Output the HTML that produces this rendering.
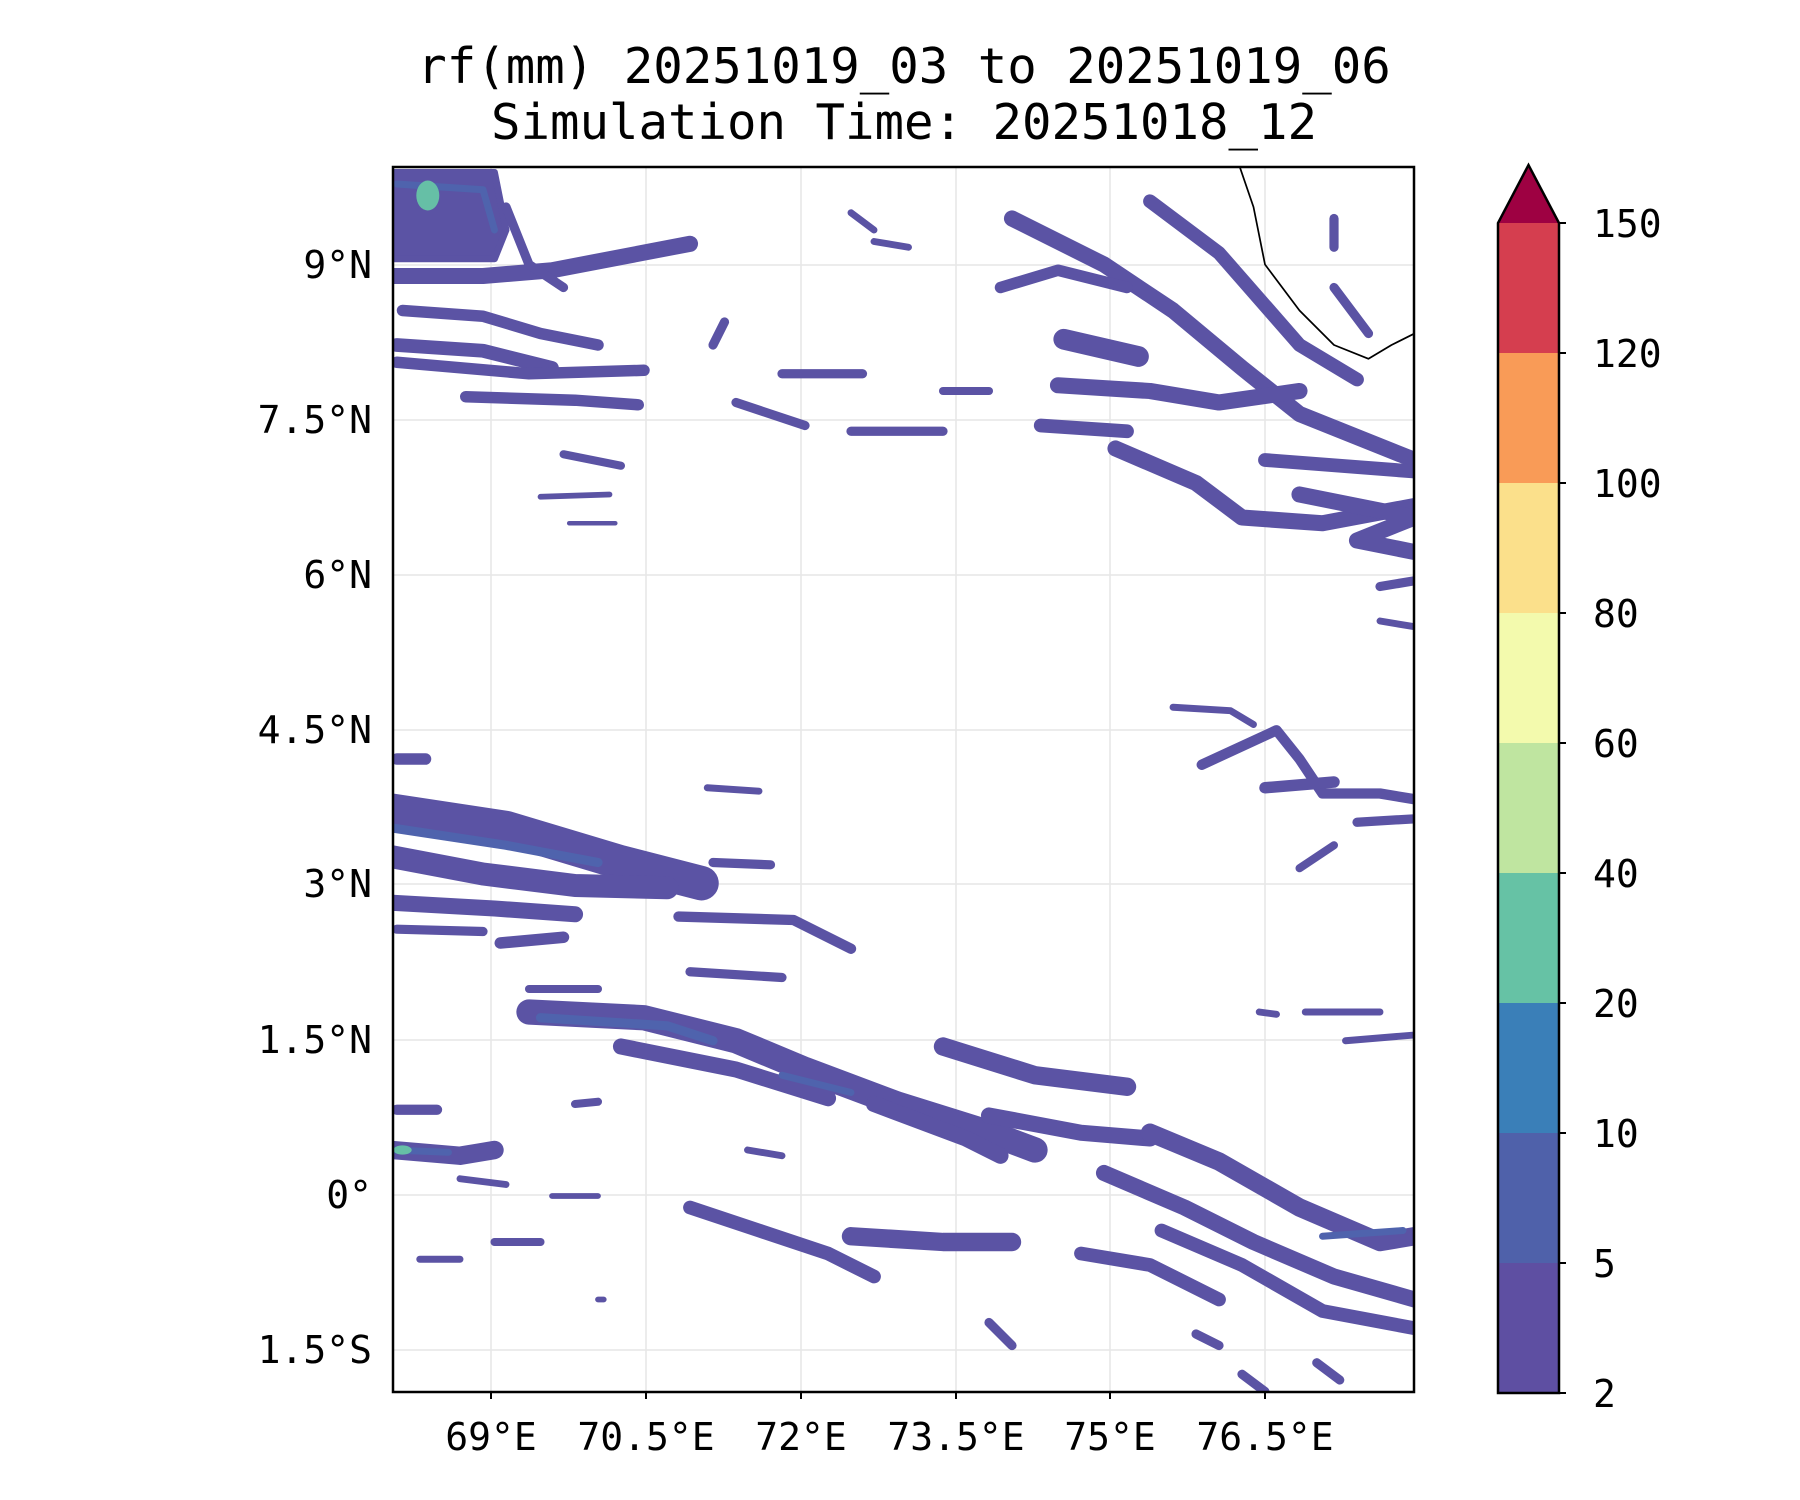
<!DOCTYPE html>
<html><head><meta charset="utf-8"><style>
html,body{margin:0;padding:0;background:#fff;}
svg{display:block;}
text{font-family:"DejaVu Sans Mono","Liberation Mono",monospace;fill:#000;}
</style></head><body>
<svg width="1800" height="1500" viewBox="0 0 1800 1500" xmlns="http://www.w3.org/2000/svg">
<text x="904" y="83" font-size="49" text-anchor="middle">rf(mm) 20251019_03 to 20251019_06</text>
<text x="904" y="139" font-size="49" text-anchor="middle">Simulation Time: 20251018_12</text>
<defs><clipPath id="c"><rect x="393" y="167" width="1021" height="1225"/></clipPath></defs>
<g stroke="#e6e6e6" stroke-width="1.5">
<line x1="491" y1="167" x2="491" y2="1392"/><line x1="646" y1="167" x2="646" y2="1392"/><line x1="801" y1="167" x2="801" y2="1392"/><line x1="956" y1="167" x2="956" y2="1392"/><line x1="1110" y1="167" x2="1110" y2="1392"/><line x1="1265" y1="167" x2="1265" y2="1392"/>
<line x1="393" y1="265" x2="1414" y2="265"/><line x1="393" y1="420" x2="1414" y2="420"/><line x1="393" y1="575" x2="1414" y2="575"/><line x1="393" y1="730" x2="1414" y2="730"/><line x1="393" y1="884" x2="1414" y2="884"/><line x1="393" y1="1040" x2="1414" y2="1040"/><line x1="393" y1="1195" x2="1414" y2="1195"/><line x1="393" y1="1350" x2="1414" y2="1350"/>
</g>
<g clip-path="url(#c)">
<g transform="scale(1.15)" fill="none" stroke-linecap="round" stroke-linejoin="round">
<g stroke="#5b53a4">
<path d="M341,150 L430,150 L440,200 L430,225 L341,225" fill="#5b53a4" stroke-width="6"/>
<polyline stroke-width="14" points="341,240 420,240 480,235 600,212"/>
<polyline stroke-width="10" points="350,270 420,275 470,290 520,300"/>
<polyline stroke-width="12" points="345,300 420,305 480,320"/>
<polyline stroke-width="10" points="345,315 460,325 560,322"/>
<polyline stroke-width="10" points="405,345 500,348 555,352"/>
<polyline stroke-width="8" points="440,180 460,230 490,250"/>
<polyline stroke-width="8" points="620,300 630,280"/>
<polyline stroke-width="7" points="490,395 540,405"/>
<polyline stroke-width="5" points="470,432 530,430"/><polyline stroke-width="4" points="495,455 535,455"/>
<polyline stroke-width="8" points="680,325 750,325"/><polyline stroke-width="8" points="740,375 820,375"/><polyline stroke-width="8" points="640,350 700,370"/>
<polyline stroke-width="7" points="820,340 860,340"/><polyline stroke-width="6" points="740,185 760,200"/><polyline stroke-width="6" points="760,210 790,215"/>
<polyline stroke-width="14" points="880,190 960,230 1020,270 1080,320 1130,360 1230,400"/>
<polyline stroke-width="12" points="1000,175 1060,220 1130,300 1180,330"/>
<polyline stroke-width="10" points="870,250 920,235 980,250"/>
<polyline stroke-width="18" points="925,295 990,310"/>
<polyline stroke-width="14" points="920,335 1000,340 1060,350 1130,340"/>
<polyline stroke-width="12" points="905,370 980,375"/>
<polyline stroke-width="14" points="970,390 1040,420 1080,450 1150,455 1230,440"/>
<polyline stroke-width="12" points="1100,400 1230,410"/>
<polyline stroke-width="14" points="1130,430 1230,450 1180,470 1230,480"/>
<polyline stroke-width="8" points="1160,190 1160,215"/><polyline stroke-width="8" points="1160,250 1190,290"/>
<polyline stroke-width="8" points="1200,510 1230,505"/><polyline stroke-width="6" points="1200,540 1230,545"/>
<polyline stroke-width="6" points="1020,615 1070,618 1090,630"/>
<polyline stroke-width="9" points="1045,665 1110,635 1130,660 1150,690 1200,690 1230,695"/>
<polyline stroke-width="10" points="1100,685 1160,680"/><polyline stroke-width="8" points="1180,715 1230,712"/>
<polyline stroke-width="7" points="1130,755 1160,735"/>
<polyline stroke-width="30" points="341,705 440,720 540,750 610,768"/>
<polyline stroke-width="20" points="341,745 420,760 500,770 580,772"/>
<polyline stroke-width="14" points="341,785 430,790 500,795"/>
<polyline stroke-width="10" points="345,660 370,660"/><polyline stroke-width="8" points="345,808 420,810"/>
<polyline stroke-width="10" points="435,820 490,815"/>
<polyline stroke-width="9" points="590,797 690,800 740,825"/>
<polyline stroke-width="8" points="620,750 670,752"/><polyline stroke-width="6" points="615,685 660,688"/>
<polyline stroke-width="8" points="600,845 680,850"/><polyline stroke-width="7" points="460,860 520,860"/>
<polyline stroke-width="22" points="460,880 560,885 640,905 700,930 780,960 860,985 900,1000"/>
<polyline stroke-width="14" points="540,910 640,930 720,955"/>
<polyline stroke-width="16" points="820,910 900,935 980,945"/>
<polyline stroke-width="14" points="760,960 840,990 870,1005"/>
<polyline stroke-width="14" points="860,970 940,985 1000,990"/>
<polyline stroke-width="16" points="1000,985 1060,1010 1130,1050 1200,1080 1230,1075"/>
<polyline stroke-width="14" points="960,1020 1030,1050 1090,1080 1160,1110 1230,1130"/>
<polyline stroke-width="12" points="1010,1070 1080,1100 1150,1140 1230,1155"/>
<polyline stroke-width="12" points="940,1090 1000,1100 1060,1130"/>
<polyline stroke-width="12" points="600,1050 660,1070 720,1090 760,1110"/>
<polyline stroke-width="16" points="740,1075 820,1080 880,1080"/>
<polyline stroke-width="8" points="860,1150 880,1170"/><polyline stroke-width="8" points="1040,1160 1060,1170"/>
<polyline stroke-width="8" points="1080,1195 1100,1210"/><polyline stroke-width="8" points="1145,1185 1165,1200"/>
<polyline stroke-width="16" points="341,1000 400,1005 430,1000"/>
<polyline stroke-width="9" points="345,965 380,965"/><polyline stroke-width="6" points="400,1025 440,1030"/>
<polyline stroke-width="7" points="430,1080 470,1080"/><polyline stroke-width="6" points="365,1095 400,1095"/>
<polyline stroke-width="7" points="500,960 520,958"/><polyline stroke-width="6" points="650,1000 680,1005"/>
<polyline stroke-width="6" points="1135,880 1200,880"/><polyline stroke-width="6" points="1170,905 1230,900"/>
<polyline stroke-width="6" points="1095,880 1110,882"/>
<polyline stroke-width="5" points="480,1040 520,1040"/><polyline stroke-width="5" points="520,1130 525,1130"/>
</g>
<g stroke="#4f63ad">
<polyline stroke-width="8" points="341,720 440,735 520,750"/>
<polyline stroke-width="8" points="470,885 580,892 620,905"/>
<polyline stroke-width="6" points="680,935 740,950"/>
<polyline stroke-width="6" points="341,1000 390,1002"/>
<polyline stroke-width="6" points="1150,1075 1220,1070"/>
<polyline stroke-width="6" points="345,160 420,165 430,200"/>
</g>
<ellipse cx="372" cy="170" rx="10" ry="13" fill="#66bfa6"/>
<ellipse cx="350" cy="1000" rx="8" ry="4" fill="#66bfa6"/>
<polyline points="1078,145 1090,180 1100,230 1130,270 1160,300 1190,312 1210,300 1230,290" stroke="#000" stroke-width="1.5"/>
</g>
</g>
<rect x="393" y="167" width="1021" height="1225" fill="none" stroke="#000" stroke-width="2.5"/>
<g stroke="#000" stroke-width="2">
<line x1="491" y1="1392" x2="491" y2="1399"/><line x1="646" y1="1392" x2="646" y2="1399"/><line x1="801" y1="1392" x2="801" y2="1399"/><line x1="956" y1="1392" x2="956" y2="1399"/><line x1="1110" y1="1392" x2="1110" y2="1399"/><line x1="1265" y1="1392" x2="1265" y2="1399"/>
</g>
<g font-size="38" text-anchor="middle">
<text x="491" y="1450">69°E</text><text x="646" y="1450">70.5°E</text><text x="801" y="1450">72°E</text><text x="956" y="1450">73.5°E</text><text x="1110" y="1450">75°E</text><text x="1265" y="1450">76.5°E</text>
</g>
<g font-size="38" text-anchor="end">
<text x="372" y="278">9°N</text><text x="372" y="433">7.5°N</text><text x="372" y="588">6°N</text><text x="372" y="743">4.5°N</text><text x="372" y="897">3°N</text><text x="372" y="1053">1.5°N</text><text x="372" y="1208">0°</text><text x="372" y="1363">1.5°S</text>
</g>
<g>
<rect x="1498" y="1263" width="61" height="130" fill="#5e4fa2"/>
<rect x="1498" y="1133" width="61" height="130" fill="#4f61aa"/>
<rect x="1498" y="1003" width="61" height="130" fill="#3a7fb8"/>
<rect x="1498" y="873" width="61" height="130" fill="#66c2a5"/>
<rect x="1498" y="743" width="61" height="130" fill="#bfe5a0"/>
<rect x="1498" y="613" width="61" height="130" fill="#f3faad"/>
<rect x="1498" y="483" width="61" height="130" fill="#fbe08b"/>
<rect x="1498" y="353" width="61" height="130" fill="#f99b57"/>
<rect x="1498" y="223" width="61" height="130" fill="#d53e4f"/>
<polygon points="1498,223 1528.5,165 1559,223" fill="#9e0142"/>
<polygon points="1498,1393 1498,223 1528.5,165 1559,223 1559,1393" fill="none" stroke="#000" stroke-width="2.5"/>
</g>
<g stroke="#000" stroke-width="2">
<line x1="1559" y1="223" x2="1566" y2="223"/><line x1="1559" y1="353" x2="1566" y2="353"/><line x1="1559" y1="483" x2="1566" y2="483"/><line x1="1559" y1="613" x2="1566" y2="613"/><line x1="1559" y1="743" x2="1566" y2="743"/><line x1="1559" y1="873" x2="1566" y2="873"/><line x1="1559" y1="1003" x2="1566" y2="1003"/><line x1="1559" y1="1133" x2="1566" y2="1133"/><line x1="1559" y1="1263" x2="1566" y2="1263"/><line x1="1559" y1="1393" x2="1566" y2="1393"/>
</g>
<g font-size="38">
<text x="1593" y="237">150</text><text x="1593" y="367">120</text><text x="1593" y="497">100</text><text x="1593" y="627">80</text><text x="1593" y="757">60</text><text x="1593" y="887">40</text><text x="1593" y="1017">20</text><text x="1593" y="1147">10</text><text x="1593" y="1277">5</text><text x="1593" y="1407">2</text>
</g>
</svg>
</body></html>
